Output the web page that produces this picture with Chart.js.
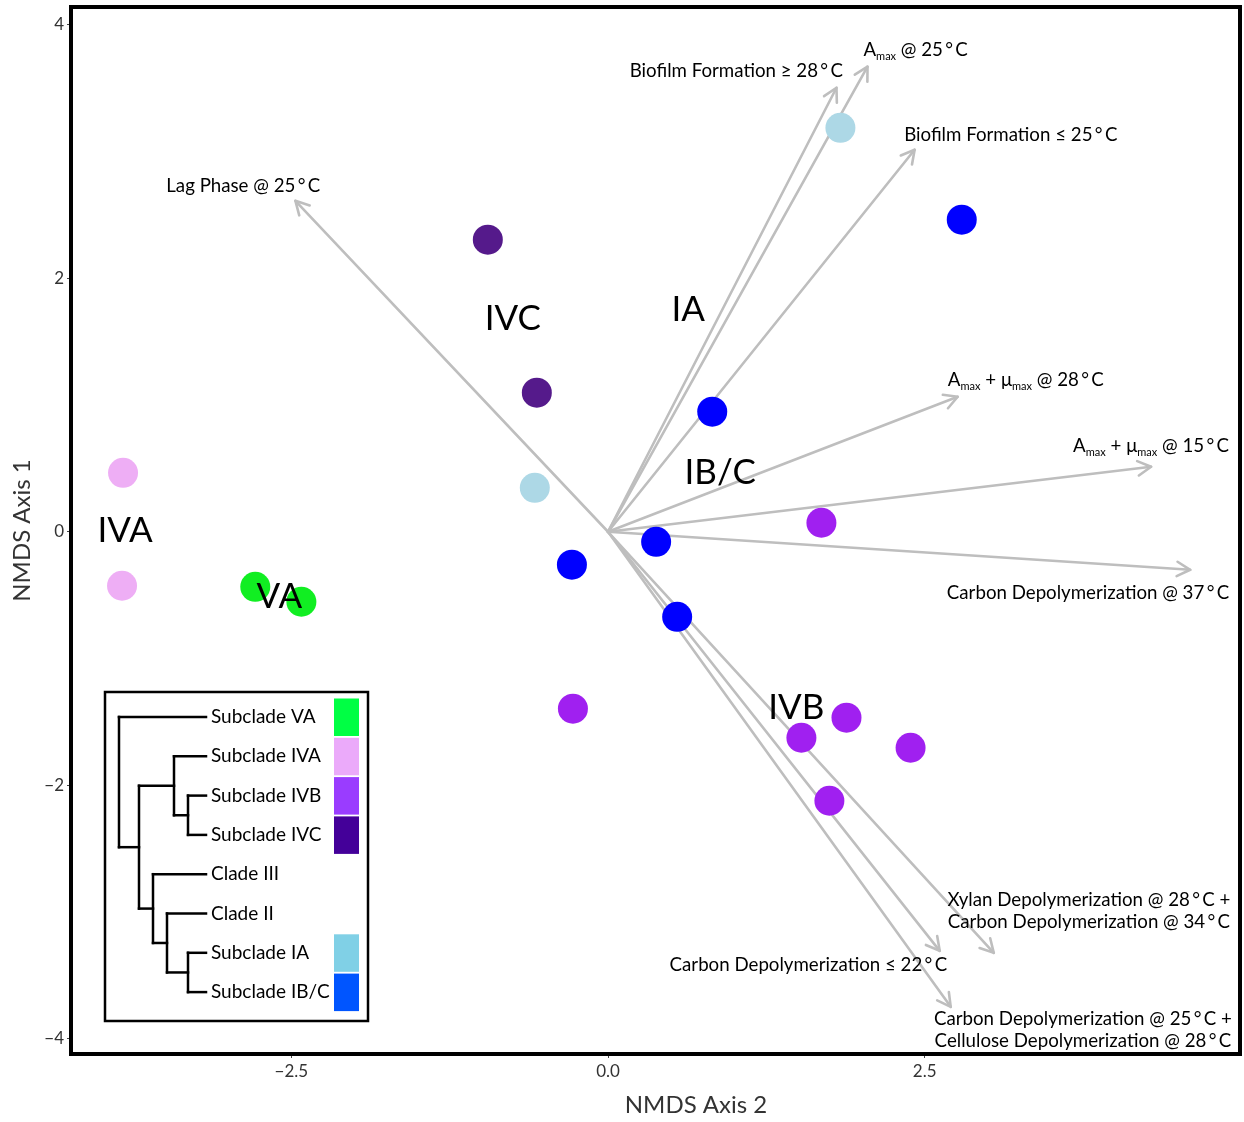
<!DOCTYPE html>
<html><head><meta charset="utf-8">
<script src="https://cdn.jsdelivr.net/npm/chart.js@4.4.1/dist/chart.umd.min.js"></script>
<style>html,body{margin:0;padding:0;background:#fff;}canvas{display:block;}</style>
</head><body>
<canvas id="c" width="1244" height="1122"></canvas>
<script>
const FONT = 'Lato, "Noto Sans", sans-serif';

// axis ranges and ticks
const xRange = [-4.24, 4.99];
const yRange = [-4.12, 4.14];
const xTicks = [-2.5, 0, 2.5];
const yTicks = [-4, -2, 0, 2, 4];

// points per subclade (NMDS Axis 2 = x, NMDS Axis 1 = y)
const iaX  = [1.835, -0.578];
const iaY  = [3.187, 0.347];
const ibcX = [2.793, 0.823, 0.380, -0.285, 0.546];
const ibcY = [2.462, 0.947, -0.079, -0.260, -0.671];
const ivcX = [-0.949, -0.562];
const ivcY = [2.304, 1.097];
const ivbX = [1.685, -0.277, 1.527, 1.883, 2.389, 1.748];
const ivbY = [0.071, -1.396, -1.625, -1.467, -1.704, -2.122];
const ivaX = [-3.829, -3.837];
const ivaY = [0.465, -0.426];
const vaX  = [-2.785, -2.421];
const vaY  = [-0.434, -0.552];

// fitted vectors (arrows from origin)
const arrowLabels = [
  ['Lag Phase @ 25\u2009°\u2009C'],
  ['Biofilm Formation ≥ 28\u2009°\u2009C'],
  ['A_{max} @ 25\u2009°\u2009C'],
  ['Biofilm Formation ≤ 25\u2009°\u2009C'],
  ['A_{max} + μ_{max} @ 28\u2009°\u2009C'],
  ['A_{max} + μ_{max} @ 15\u2009°\u2009C'],
  ['Carbon Depolymerization @ 37\u2009°\u2009C'],
  ['Xylan Depolymerization @ 28\u2009°\u2009C +', 'Carbon Depolymerization @ 34\u2009°\u2009C'],
  ['Carbon Depolymerization ≤ 22\u2009°\u2009C'],
  ['Carbon Depolymerization @ 25\u2009°\u2009C +', 'Cellulose Depolymerization @ 28\u2009°\u2009C']
];
const arrowX = [-2.468, 1.804, 2.049, 2.421, 2.761, 4.288, 4.597, 3.046, 2.619, 2.706];
const arrowY = [2.611, 3.503, 3.669, 3.014, 1.065, 0.513, -0.300, -3.322, -3.306, -3.748];
const arrowLabelX = [-2.880, 1.013, 2.429, 3.180, 3.299, 4.288, 3.790, 3.797, 1.582, 3.750];
const arrowLabelY = [2.730, 3.637, 3.803, 3.132, 1.199, 0.679, -0.481, -2.990, -3.416, -3.929];

// cluster labels
const clusterNames = ['IVC', 'IA', 'IB/C', 'IVA', 'VA', 'IVB'];
const clusterX = [-0.752, 0.633, 0.886, -3.813, -2.595, 1.487];
const clusterY = [1.684, 1.751, 0.465, 0.008, -0.513, -1.389];

// legend (dendrogram order)
const legendLeaves = ['Subclade VA','Subclade IVA','Subclade IVB','Subclade IVC','Clade III','Clade II','Subclade IA','Subclade IB/C'];
const legendColors = ['#00ff44','#ebaafa','#9a3cff','#440099',null,null,'#80d0e6','#0055ff'];

function zip(xs, ys){ return xs.map((x,i)=>({x:x, y:ys[i]})); }
function fmtMinus(s){ return s.replace('-', '\u2212'); }

function drawRich(ctx, str, x, y, size, align){
  const parts = [];
  const re = /_\{([^}]*)\}/g; let last = 0, m;
  while ((m = re.exec(str))){ if (m.index > last) parts.push({t: str.slice(last, m.index), sub:false}); parts.push({t:m[1], sub:true}); last = re.lastIndex; }
  if (last < str.length) parts.push({t: str.slice(last), sub:false});
  let w = 0;
  parts.forEach(p => { ctx.font = (p.sub ? Math.round(size*0.6) : size) + 'px ' + FONT; p.w = ctx.measureText(p.t).width; w += p.w; });
  let cx = align === 'center' ? x - w/2 : (align === 'right' ? x - w : x);
  ctx.textAlign = 'left'; ctx.textBaseline = 'middle';
  parts.forEach(p => { ctx.font = (p.sub ? Math.round(size*0.6) : size) + 'px ' + FONT; ctx.fillText(p.t, cx, y + (p.sub ? size*0.35 : 0)); cx += p.w; });
}

const decor = {
  id: 'decor',
  beforeDatasetsDraw(chart){
    const ctx = chart.ctx, xs = chart.scales.x, ys = chart.scales.y;
    const ox = xs.getPixelForValue(0), oy = ys.getPixelForValue(0);
    ctx.save();
    ctx.strokeStyle = '#bebebe'; ctx.lineWidth = 2.6; ctx.lineCap = 'round'; ctx.lineJoin = 'round';
    arrowX.forEach((ax, i) => {
      const tx = xs.getPixelForValue(ax), ty = ys.getPixelForValue(arrowY[i]);
      const ang = Math.atan2(ty - oy, tx - ox), L = 15, a = 0.5;
      ctx.beginPath(); ctx.moveTo(ox, oy); ctx.lineTo(tx, ty); ctx.stroke();
      ctx.beginPath();
      ctx.moveTo(tx - L*Math.cos(ang - a), ty - L*Math.sin(ang - a));
      ctx.lineTo(tx, ty);
      ctx.lineTo(tx - L*Math.cos(ang + a), ty - L*Math.sin(ang + a));
      ctx.stroke();
    });
    ctx.restore();
  },
  afterDatasetsDraw(chart){
    const ctx = chart.ctx, xs = chart.scales.x, ys = chart.scales.y, ca = chart.chartArea;
    ctx.save();
    ctx.fillStyle = '#000';
    // arrow labels
    arrowLabels.forEach((lines, i) => {
      const lx = xs.getPixelForValue(arrowLabelX[i]), ly = ys.getPixelForValue(arrowLabelY[i]);
      const n = lines.length, lh = 22;
      lines.forEach((s, k) => drawRich(ctx, s, lx, ly + (k - (n-1)/2)*lh, 18.7, 'center'));
    });
    // cluster labels
    ctx.font = '35px ' + FONT; ctx.textAlign = 'center'; ctx.textBaseline = 'middle';
    clusterNames.forEach((s, i) => ctx.fillText(s, xs.getPixelForValue(clusterX[i]), ys.getPixelForValue(clusterY[i])));
    // frame
    ctx.strokeStyle = '#000'; ctx.lineWidth = 4;
    ctx.strokeRect(ca.left, ca.top, ca.right - ca.left, ca.bottom - ca.top);
    // axis titles
    ctx.fillStyle = '#333'; ctx.font = '24px ' + FONT; ctx.textAlign = 'center'; ctx.textBaseline = 'middle';
    ctx.fillText('NMDS Axis 2', 696, 1105);
    ctx.save(); ctx.translate(22, (ca.top + ca.bottom)/2); ctx.rotate(-Math.PI/2); ctx.fillText('NMDS Axis 1', 0, 0); ctx.restore();
    // legend inset
    const bx = 105, by = 692, bw = 263, bh = 329;
    ctx.fillStyle = '#fff'; ctx.fillRect(bx, by, bw, bh);
    ctx.strokeStyle = '#000'; ctx.lineWidth = 2.5; ctx.strokeRect(bx, by, bw, bh);
    const rowY = k => 717 + k*39.3;
    // swatches
    legendColors.forEach((c, k) => { if (!c) return; ctx.fillStyle = c; ctx.fillRect(334, rowY(k) - 18.5, 25, 37.5); });
    // leaf text
    ctx.fillStyle = '#000'; ctx.font = '19px ' + FONT; ctx.textAlign = 'left'; ctx.textBaseline = 'middle';
    legendLeaves.forEach((s, k) => ctx.fillText(s, 211, rowY(k)));
    // dendrogram
    ctx.strokeStyle = '#000'; ctx.lineWidth = 2.5; ctx.lineCap = 'square';
    const seg = (x1,y1,x2,y2) => { ctx.beginPath(); ctx.moveTo(x1,y1); ctx.lineTo(x2,y2); ctx.stroke(); };
    const leafEnd = 206;
    const yBC = (rowY(2)+rowY(3))/2, yIV = (rowY(1)+yBC)/2;
    const yIab = (rowY(6)+rowY(7))/2, yII = (rowY(5)+yIab)/2, yIII = (rowY(4)+yII)/2;
    const yIn = (yIV + yIII)/2;
    // leaves
    seg(119, rowY(0), leafEnd, rowY(0));
    seg(174, rowY(1), leafEnd, rowY(1));
    seg(188, rowY(2), leafEnd, rowY(2));
    seg(188, rowY(3), leafEnd, rowY(3));
    seg(153, rowY(4), leafEnd, rowY(4));
    seg(167, rowY(5), leafEnd, rowY(5));
    seg(188, rowY(6), leafEnd, rowY(6));
    seg(188, rowY(7), leafEnd, rowY(7));
    // nodes
    seg(188, rowY(2), 188, rowY(3)); seg(174, yBC, 188, yBC);
    seg(174, rowY(1), 174, yBC); seg(139, yIV, 174, yIV);
    seg(188, rowY(6), 188, rowY(7)); seg(167, yIab, 188, yIab);
    seg(167, rowY(5), 167, yIab); seg(153, yII, 167, yII);
    seg(153, rowY(4), 153, yII); seg(139, yIII, 153, yIII);
    seg(139, yIV, 139, yIII); seg(119, yIn, 139, yIn);
    seg(119, rowY(0), 119, yIn);
    ctx.restore();
  }
};

const ds = (label, xs, ys, color) => ({label, data: zip(xs, ys), backgroundColor: color, borderWidth: 0, pointRadius: 15, pointHoverRadius: 15});

new Chart(document.getElementById('c'), {
  type: 'scatter',
  data: { datasets: [
    ds('Subclade IA', iaX, iaY, '#add8e6'),
    ds('Subclade IB/C', ibcX, ibcY, '#0000ff'),
    ds('Subclade IVC', ivcX, ivcY, '#551a8b'),
    ds('Subclade IVB', ivbX, ivbY, '#a020f0'),
    ds('Subclade IVA', ivaX, ivaY, '#eeaef5'),
    ds('Subclade VA', vaX, vaY, '#11ee22')
  ]},
  options: {
    responsive: false, animation: false, events: [],
    layout: { autoPadding: false, padding: { top: 7, right: 4, left: 0, bottom: 0 } },
    plugins: { legend: { display: false }, tooltip: { enabled: false } },
    scales: {
      x: {
        type: 'linear', min: xRange[0], max: xRange[1],
        afterBuildTicks: s => { s.ticks = xTicks.map(v => ({value: v})); },
        afterFit: s => { s.height = 68; s.paddingLeft = 0; s.paddingRight = 0; },
        ticks: { autoSkip: false, maxRotation: 0, padding: 3, color: '#333', font: { family: FONT, size: 17 }, callback: v => fmtMinus(Number(v).toFixed(1)) },
        grid: { drawOnChartArea: false, drawTicks: true, tickLength: 4, color: '#444' },
        border: { display: false }
      },
      y: {
        type: 'linear', min: yRange[0], max: yRange[1],
        afterBuildTicks: s => { s.ticks = yTicks.map(v => ({value: v})); },
        afterFit: s => { s.width = 71; s.paddingTop = 0; s.paddingBottom = 0; },
        ticks: { autoSkip: false, padding: 3, color: '#333', font: { family: FONT, size: 17 }, callback: v => fmtMinus(String(v)) },
        grid: { drawOnChartArea: false, drawTicks: true, tickLength: 4, color: '#444' },
        border: { display: false }
      }
    }
  },
  plugins: [decor]
});
</script>
</body></html>
